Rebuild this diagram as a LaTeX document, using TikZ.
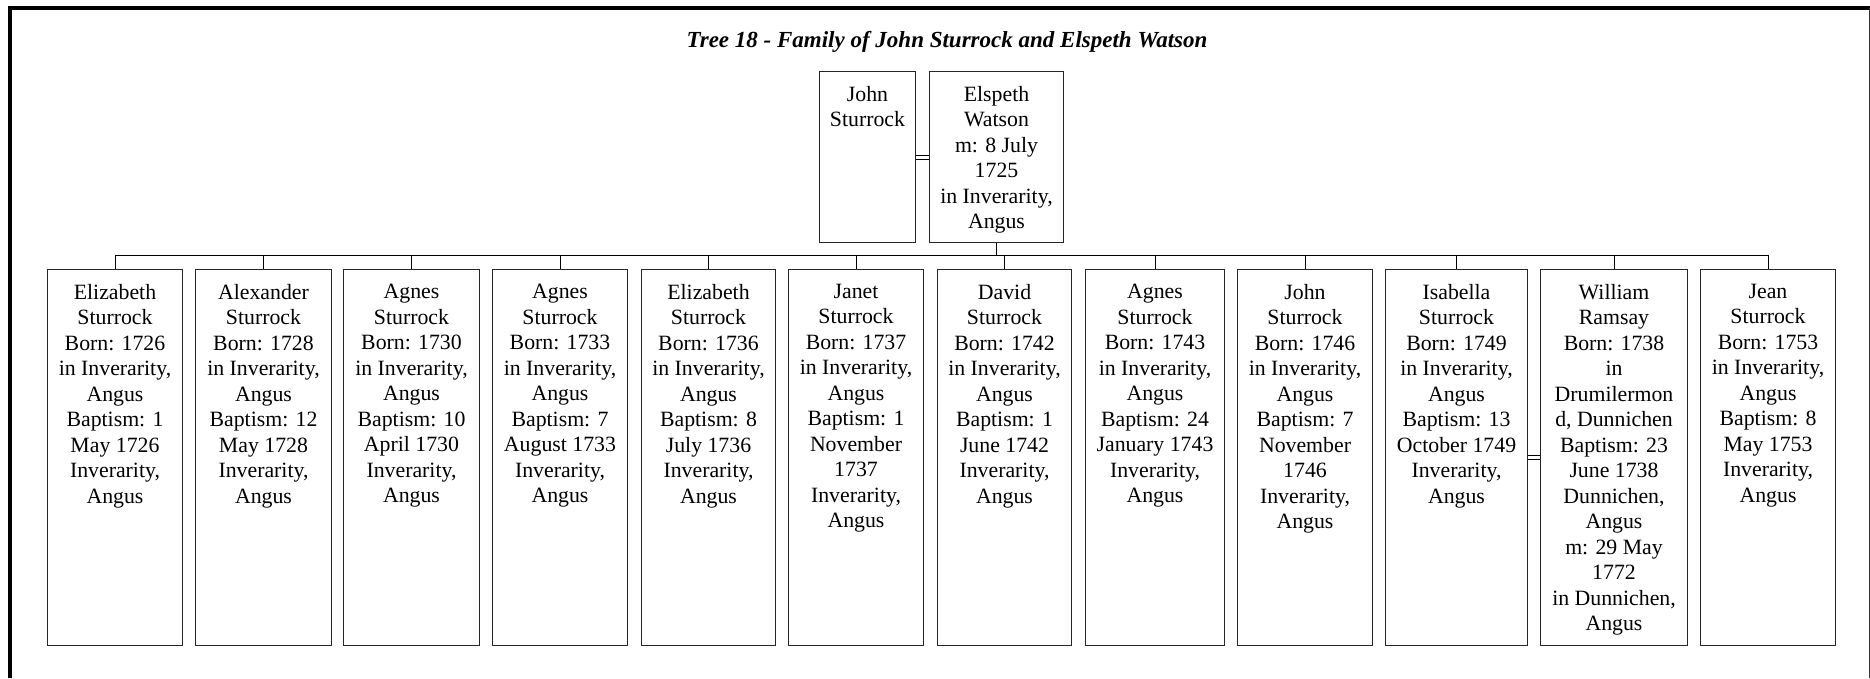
\documentclass[tikz,border=0pt]{standalone}
\usepackage{fontspec}
\setmainfont{Liberation Serif}
\begin{document}
\begin{tikzpicture}[x=1pt,y=-1pt,
  person/.style={draw=black!85, line width=1pt, inner sep=0pt, anchor=north west, minimum height=376pt},
  parent/.style={draw=black!85, line width=1pt, inner sep=0pt, anchor=north west, minimum height=171pt},
  info/.style={anchor=north, inner sep=0pt, align=center, font=\fontsize{21.8}{25.5}\selectfont},
  link/.style={draw=black, line width=1pt},
]
\useasboundingbox (0,0) rectangle (1870,678);

% page frame
\draw[line width=4pt] (10,678) -- (10,7.5) -- (1870,7.5);
\draw[line width=1pt, black!80] (1869,7.5) -- (1869,678);

% title
\node[anchor=base, inner sep=0pt, font=\fontsize{23}{26}\selectfont\bfseries\itshape] (title) at (947,47)
  {Tree 18 - Family of John Sturrock and Elspeth Watson};

% parents
\node[parent, minimum width=96pt] (ph) at (819,71) {};
\node[info] (pht) at ([yshift=-15pt]ph.north) {John\\Sturrock};
\node[parent, minimum width=134pt] (pw) at (929,71) {};
\node[info] (pwt) at ([yshift=-15pt]pw.north) {Elspeth\\Watson\\m: 8 July\\1725\\in Inverarity,\\Angus};

% children
\node[person, minimum width=135pt] (c1) at (47,269) {};
\node[info] (c1t) at ([yshift=-15pt]c1.north) {Elizabeth\\Sturrock\\Born: 1726\\in Inverarity,\\Angus\\Baptism: 1\\May 1726\\Inverarity,\\Angus};
\node[person, minimum width=136pt] (c2) at (195,269) {};
\node[info] (c2t) at ([yshift=-15pt]c2.north) {Alexander\\Sturrock\\Born: 1728\\in Inverarity,\\Angus\\Baptism: 12\\May 1728\\Inverarity,\\Angus};
\node[person, minimum width=136pt] (c3) at (343,269) {};
\node[info] (c3t) at ([yshift=-15pt]c3.north) {Agnes\\Sturrock\\Born: 1730\\in Inverarity,\\Angus\\Baptism: 10\\April 1730\\Inverarity,\\Angus};
\node[person, minimum width=135pt] (c4) at (492,269) {};
\node[info] (c4t) at ([yshift=-15pt]c4.north) {Agnes\\Sturrock\\Born: 1733\\in Inverarity,\\Angus\\Baptism: 7\\August 1733\\Inverarity,\\Angus};
\node[person, minimum width=134pt] (c5) at (641,269) {};
\node[info] (c5t) at ([yshift=-15pt]c5.north) {Elizabeth\\Sturrock\\Born: 1736\\in Inverarity,\\Angus\\Baptism: 8\\July 1736\\Inverarity,\\Angus};
\node[person, minimum width=135pt] (c6) at (788,269) {};
\node[info] (c6t) at ([yshift=-15pt]c6.north) {Janet\\Sturrock\\Born: 1737\\in Inverarity,\\Angus\\Baptism: 1\\November\\1737\\Inverarity,\\Angus};
\node[person, minimum width=134pt] (c7) at (937,269) {};
\node[info] (c7t) at ([yshift=-15pt]c7.north) {David\\Sturrock\\Born: 1742\\in Inverarity,\\Angus\\Baptism: 1\\June 1742\\Inverarity,\\Angus};
\node[person, minimum width=139pt] (c8) at (1085,269) {};
\node[info] (c8t) at ([yshift=-15pt]c8.north) {Agnes\\Sturrock\\Born: 1743\\in Inverarity,\\Angus\\Baptism: 24\\January 1743\\Inverarity,\\Angus};
\node[person, minimum width=135pt] (c9) at (1237,269) {};
\node[info] (c9t) at ([yshift=-15pt]c9.north) {John\\Sturrock\\Born: 1746\\in Inverarity,\\Angus\\Baptism: 7\\November\\1746\\Inverarity,\\Angus};
\node[person, minimum width=142pt] (c10) at (1385,269) {};
\node[info] (c10t) at ([yshift=-15pt]c10.north) {Isabella\\Sturrock\\Born: 1749\\in Inverarity,\\Angus\\Baptism: 13\\October 1749\\Inverarity,\\Angus};
\node[person, minimum width=147pt] (c11) at (1540,269) {};
\node[info] (c11t) at ([yshift=-15pt]c11.north) {William\\Ramsay\\Born: 1738\\in\\Drumilermon\\d, Dunnichen\\Baptism: 23\\June 1738\\Dunnichen,\\Angus\\m: 29 May\\1772\\in Dunnichen,\\Angus};
\node[person, minimum width=135pt] (c12) at (1700,269) {};
\node[info] (c12t) at ([yshift=-15pt]c12.north) {Jean\\Sturrock\\Born: 1753\\in Inverarity,\\Angus\\Baptism: 8\\May 1753\\Inverarity,\\Angus};

% marriage links
\draw[link] (ph.east |- 0,155) -- (pw.west |- 0,155);
\draw[link] (ph.east |- 0,159) -- (pw.west |- 0,159);
\draw[link] (c10.east |- 0,455) -- (c11.west |- 0,455);
\draw[link] (c10.east |- 0,459) -- (c11.west |- 0,459);

% descent lines
\coordinate (bus) at (0,255);
\draw[link] (pw.south) -- (pw.south |- bus);
\draw[link] (c1.north |- bus) -- (c12.north |- bus);
\foreach \k in {1,...,12}
  \draw[link] (c\k.north) -- (c\k.north |- bus);
\end{tikzpicture}
\end{document}
